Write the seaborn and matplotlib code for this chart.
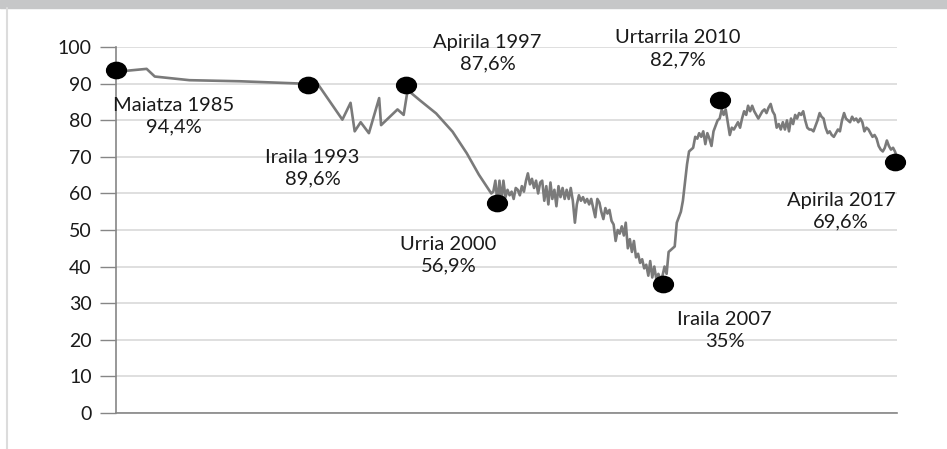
import numpy as np
import pandas as pd
import matplotlib
matplotlib.use("Agg")
import matplotlib.pyplot as plt
import seaborn as sns
from matplotlib.path import Path
from matplotlib.lines import Line2D
from matplotlib.patches import Rectangle

# sparse polls before 2000
early_dates = ['1985-05', '1986-08', '1986-12', '1988-05', '1990-06', '1993-08',
               '1994-08', '1994-12', '1995-02', '1995-05', '1995-09', '1996-02',
               '1996-03', '1996-11', '1997-02', '1997-04', '1997-10', '1998-06',
               '1999-02', '1999-09', '2000-03', '2000-09']
early_values = [93.3, 94.1, 92.0, 91.0, 90.7, 89.9,
                80.2, 84.8, 77.0, 79.5, 76.5, 86.1,
                78.7, 83.0, 81.5, 88.3, 85.5, 81.9,
                76.9, 71.0, 65.1, 60.0]

# monthly values, 2000-10 .. 2017-04 (one row = Oct..Sep)
monthly_values = [
    60.5, 63.5, 57.5, 63.5, 58.0, 63.5, 59.0, 61.0, 59.5, 60.5, 58.5, 61.5,
    61.0, 59.5, 62.0, 60.5, 63.5, 65.5, 62.5, 64.0, 61.5, 63.5, 60.0, 63.0,
    63.5, 58.0, 62.0, 57.0, 63.0, 58.5, 61.0, 56.5, 62.0, 59.0, 61.5, 58.5,
    61.0, 58.5, 61.5, 58.0, 52.0, 57.0, 59.5, 58.0, 59.0, 57.5, 58.5, 57.0,
    58.5, 56.0, 53.5, 58.5, 57.5, 55.0, 53.0, 56.0, 54.5, 55.5, 52.5, 51.5,
    47.0, 50.0, 49.0, 51.0, 48.5, 52.0, 45.0, 47.5, 44.0, 47.0, 42.5, 43.5,
    41.0, 42.0, 39.5, 40.5, 37.5, 41.5, 37.0, 40.0, 36.5, 38.0, 36.5, 37.5,
    40.0, 38.0, 44.0, 44.5, 45.0, 45.5, 52.0, 53.5, 55.0, 58.0, 63.0, 68.0,
    71.5, 72.0, 72.5, 75.5, 75.0, 76.5, 75.5, 77.0, 73.5, 76.5, 75.0, 73.0,
    77.0, 78.5, 80.0, 80.5, 83.0, 81.5, 83.0, 79.5, 76.0, 78.0, 77.5, 78.5,
    79.5, 78.0, 80.5, 82.5, 81.5, 84.0, 82.5, 84.0, 82.5, 81.5, 80.5, 81.5,
    82.5, 83.0, 82.0, 83.5, 84.5, 82.5, 81.5, 78.0, 79.0, 77.5, 79.5, 77.5,
    80.0, 77.0, 80.5, 79.0, 81.5, 80.5, 82.0, 81.5, 82.5, 80.0, 78.0, 77.5,
    77.5, 77.0, 78.5, 80.0, 82.0, 81.0, 80.5, 78.0, 76.5, 77.0, 76.0, 75.5,
    76.5, 77.5, 77.0, 80.0, 82.0, 80.5, 80.0, 79.5, 81.0, 80.0, 80.5, 79.5,
    80.5, 79.5, 77.0, 78.0, 77.5, 76.5, 75.5, 76.0, 75.0, 73.0, 72.0, 71.5,
    72.5, 74.5, 73.0, 72.0, 72.5, 71.5, 70.0,
]
monthly_dates = pd.date_range('2000-10-01', '2017-04-01', freq='MS')

# highlighted points and their labels
marker_dates = ['1985-05', '1993-03', '1997-03', '2000-12', '2007-09', '2010-01', '2017-03']
marker_values = [93.8, 89.6, 89.6, 57.3, 35.2, 85.7, 68.5]
marker_labels = ['Maiatza 1985\n94,4%', 'Iraila 1993\n89,6%', 'Apirila 1997\n87,6%',
                 'Urria 2000\n56,9%', 'Iraila 2007\n35%', 'Urtarrila 2010\n82,7%',
                 'Apirila 2017\n69,6%']

df = pd.DataFrame({
    'date': list(pd.to_datetime(early_dates)) + list(monthly_dates),
    'value': early_values + monthly_values,
})
marks = pd.DataFrame({'date': pd.to_datetime(marker_dates), 'value': marker_values})

sns.set_style("white")
plt.rcParams['font.family'] = ['Lato', 'DejaVu Sans']

fig = plt.figure(figsize=(9.47, 4.49), dpi=100)
ax = fig.add_axes([116 / 947, 1 - 412.7 / 449, (897 - 116) / 947, (412.7 - 47.3) / 449])

# frame decoration of the original picture
fig.patches.append(Rectangle((0, 1 - 8 / 449), 1, 8 / 449, transform=fig.transFigure,
                             color='#c6c7c8', zorder=0))
fig.lines.append(Line2D([7 / 947, 7 / 947], [0, 1 - 8 / 449], transform=fig.transFigure,
                        color='#dcdcdc', lw=1.5))

ax.yaxis.grid(True, color='#d9d9d9', lw=1.2)
ax.set_axisbelow(True)

sns.lineplot(data=df, x='date', y='value', ax=ax, color='#7a7a7a', lw=1.9)

circ = Path.unit_circle()
ellipse = Path(circ.vertices * np.array([1.0, 0.82]), circ.codes)
sns.scatterplot(data=marks, x='date', y='value', ax=ax, marker=ellipse, s=200,
                color='black', edgecolor='black', zorder=5, clip_on=False)

offsets = [(58, -46), (5, -83), (82, 32), (-49, -52), (62, -46), (-42, 51), (-54, -49)]
for d, v, txt, off in zip(marks['date'], marks['value'], marker_labels, offsets):
    ax.annotate(txt, (d, v), xytext=off, textcoords='offset pixels', ha='center',
                va='center', fontsize=14.5, linespacing=1.35, color='#1a1a1a')

ax.set_xlim(df['date'].min(), df['date'].max())
ax.set_ylim(0, 100)
ax.set_yticks(range(0, 101, 10))
ax.set_xticks([])
ax.set_xlabel('')
ax.set_ylabel('')
ax.tick_params(axis='y', length=11.5, width=1, color='#868686', pad=6,
               labelsize=14, labelcolor='#1a1a1a', left=True)
for s in ['top', 'right']:
    ax.spines[s].set_visible(False)
for s in ['left', 'bottom']:
    ax.spines[s].set_color('#868686')
    ax.spines[s].set_linewidth(1.2)

fig.savefig('out.png', dpi=100)
